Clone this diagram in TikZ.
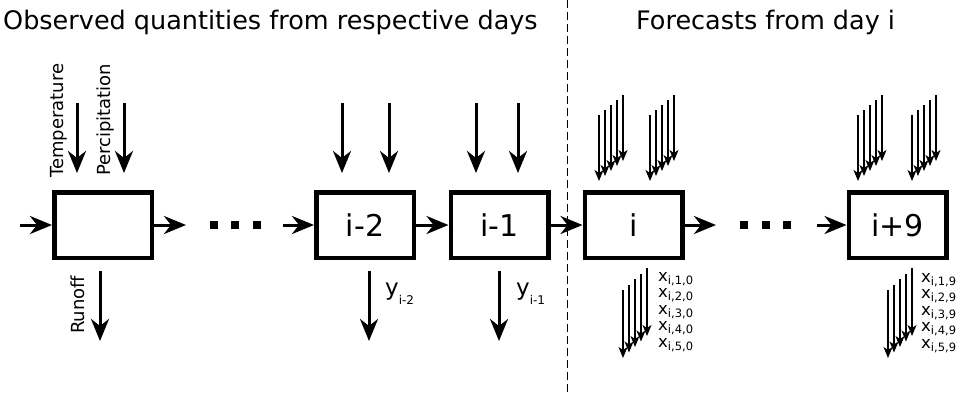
\documentclass[tikz,border=0pt]{standalone}
\usepackage{fontspec}
\setmainfont{DejaVu Sans}
\usetikzlibrary{arrows.meta}
\begin{document}
\begin{tikzpicture}[x=1pt,y=-1pt,
  box/.style={draw,line width=4.5pt,minimum width=97.5pt,minimum height=65.5pt,inner sep=0pt,font=\fontsize{30}{30}\selectfont},
  big/.style={line width=3pt,-{Stealth[length=22pt,width=18pt,inset=7pt]}},
  thinarr/.style={line width=1.5pt,-{Stealth[length=11pt,width=9pt,inset=3pt]}},
  sq/.style={fill,minimum size=8pt,inner sep=0pt,draw=none},
  vlab/.style={font=\fontsize{18}{18}\selectfont,rotate=90,anchor=base west,inner sep=0pt},
  ttl/.style={font=\fontsize{25.5}{25.5}\selectfont,anchor=base west,inner sep=0pt},
  xlab/.style={font=\fontsize{16.5}{16.5}\selectfont,anchor=base west,inner sep=0pt},
  ylab/.style={font=\fontsize{23}{23}\selectfont,anchor=base west,inner sep=0pt}]
\useasboundingbox (0,0) rectangle (962,392);
\newcommand{\xsub}[1]{x\raisebox{-3pt}{\fontsize{11.5}{11.5}\selectfont #1}}
\newcommand{\ysub}[1]{y\raisebox{-9pt}{\fontsize{12}{12}\selectfont #1}}

% titles
\node[ttl] (t1) at (3,29) {Observed quantities from respective days};
\node[ttl] (t2) at (636,29) {Forecasts from day i};

% dashed divider
\coordinate (dtop) at (567,0);
\coordinate (dbot) at (567,392);
\draw[line width=1pt,dash pattern=on 8pt off 4pt] (dtop) -- (dbot);

% boxes
\node[box] (b1) at (103,225) {};
\node[box] (b2) at (365,225) {i-2};
\node[box] (b3) at (499.5,225) {i-1};
\node[box] (b4) at (633.5,225) {i};
\node[box] (b5) at (897.5,225) {i+9};

% horizontal flow
\coordinate (in0) at (20,225);
\coordinate (o1) at (186,225);
\coordinate (i2) at (283,225);
\coordinate (o4) at (716,225);
\coordinate (i5) at (817,225);
\draw[big] (in0) -- (b1.west);
\draw[big] (b1.east) -- (o1);
\draw[big] (i2) -- (b2.west);
\draw[big] (b2.east) -- (b3.west);
\draw[big] (b3.east) -- (b4.west);
\draw[big] (b4.east) -- (o4);
\draw[big] (i5) -- (b5.west);

% dots
\node[sq] (d1) at (213.5,225) {};
\node[sq] (d2) at (235,225) {};
\node[sq] (d3) at (256.5,225) {};
\node[sq] (d4) at (744,225) {};
\node[sq] (d5) at (766,225) {};
\node[sq] (d6) at (787,225) {};

% observed inputs
\foreach \x/\n in {77/a,124/b,342/c,389/d,476/e,518/f}{
  \coordinate (s\n) at (\x,103);
  \coordinate (e\n) at (\x,173);
  \draw[big] (s\n) -- (e\n);
}
\node[vlab] (lt) at (63,178) {Temperature};
\node[vlab] (lp) at (110,176) {Percipitation};

% observed outputs
\foreach \x/\n in {100/a,369/b,499/c}{
  \coordinate (u\n) at (\x,271);
  \coordinate (v\n) at (\x,341);
  \draw[big] (u\n) -- (v\n);
}
\node[vlab] (lr) at (84,334) {Runoff};
\node[ylab] (y2) at (385,295) {\ysub{i-2}};
\node[ylab] (y1) at (516,295) {\ysub{i-1}};

% forecast inputs
\foreach \bx in {599,650,858,912}{
  \foreach \k in {0,...,4}{
    \coordinate (fa) at (\bx+6*\k,115-5*\k);
    \coordinate (fb) at (\bx+6*\k,181-5*\k);
    \draw[thinarr] (fa) -- (fb);
  }
}

% forecast outputs
\foreach \bx in {623,888}{
  \foreach \k in {0,...,4}{
    \coordinate (ga) at (\bx+6*\k,290-5.5*\k);
    \coordinate (gb) at (\bx+6*\k,358-5.5*\k);
    \draw[thinarr] (ga) -- (gb);
  }
}
\node[xlab] (x10) at (658,281) {\xsub{i,1,0}};
\node[xlab] (x20) at (658,297.5) {\xsub{i,2,0}};
\node[xlab] (x30) at (658,314) {\xsub{i,3,0}};
\node[xlab] (x40) at (658,330.5) {\xsub{i,4,0}};
\node[xlab] (x50) at (658,347) {\xsub{i,5,0}};
\node[xlab] (x19) at (921,282) {\xsub{i,1,9}};
\node[xlab] (x29) at (921,298.5) {\xsub{i,2,9}};
\node[xlab] (x39) at (921,315) {\xsub{i,3,9}};
\node[xlab] (x49) at (921,331.5) {\xsub{i,4,9}};
\node[xlab] (x59) at (921,348) {\xsub{i,5,9}};
\end{tikzpicture}
\end{document}
